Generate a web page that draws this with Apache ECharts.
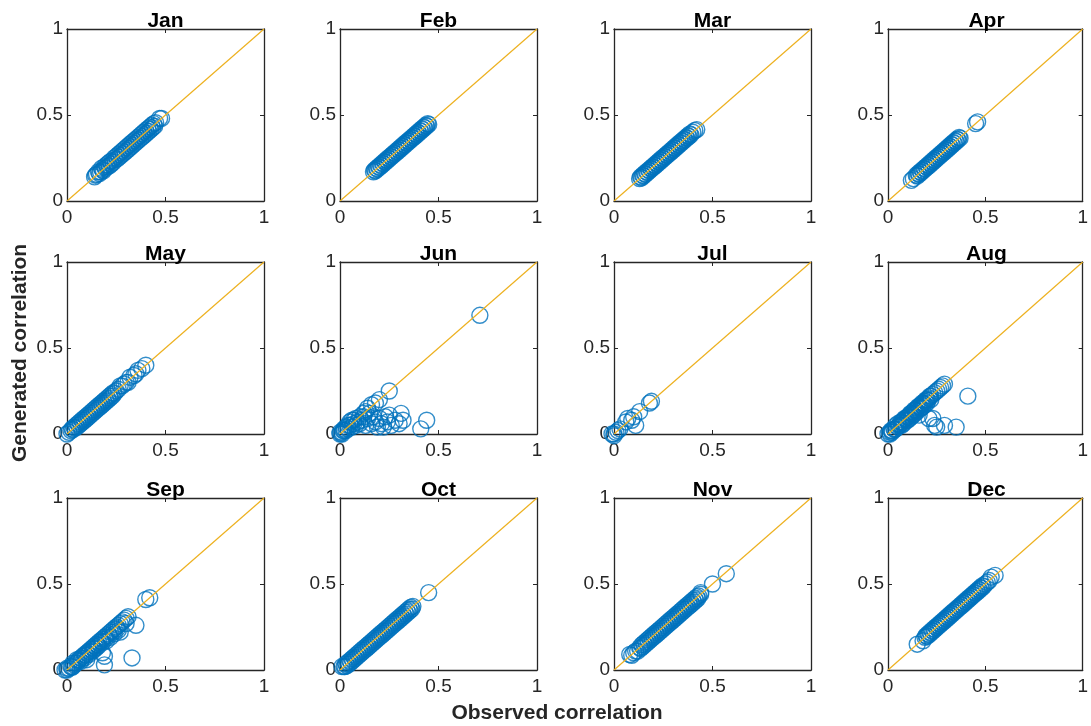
<!DOCTYPE html>
<html>
<head>
<meta charset="utf-8">
<style>
  html, body { margin: 0; padding: 0; width: 100%; height: 100%; overflow: hidden; background: #fff; }
</style>
<script src="https://cdn.jsdelivr.net/npm/echarts@6/dist/echarts.min.js"></script>
</head>
<body>
<div id="container" style="width:1091px;height:726px;"></div>
<script>
// month names / tick labels
const months = ['Jan', 'Feb', 'Mar', 'Apr', 'May', 'Jun', 'Jul', 'Aug', 'Sep', 'Oct', 'Nov', 'Dec'];
const ticks = [0, 0.5, 1];

// [observed, generated] pairs
const jan = [[0.14,0.14],[0.145,0.15],[0.15,0.155],[0.16,0.17],[0.165,0.16],[0.17,0.17],[0.175,0.19],[0.18,0.18],[0.185,0.175],[0.19,0.2],[0.195,0.19],[0.2,0.21],[0.205,0.2],[0.21,0.22],[0.215,0.205],[0.22,0.23],[0.225,0.215],[0.23,0.235],[0.235,0.225],[0.24,0.25],[0.245,0.24],[0.25,0.26],[0.255,0.245],[0.26,0.27],[0.265,0.255],[0.27,0.28],[0.275,0.265],[0.28,0.29],[0.285,0.275],[0.29,0.3],[0.295,0.285],[0.3,0.31],[0.305,0.295],[0.31,0.32],[0.315,0.305],[0.32,0.33],[0.325,0.315],[0.33,0.34],[0.335,0.325],[0.34,0.35],[0.345,0.335],[0.35,0.36],[0.355,0.345],[0.36,0.37],[0.365,0.355],[0.37,0.38],[0.375,0.365],[0.38,0.39],[0.385,0.375],[0.39,0.4],[0.395,0.385],[0.4,0.41],[0.405,0.395],[0.41,0.42],[0.415,0.405],[0.42,0.43],[0.425,0.415],[0.43,0.44],[0.435,0.425],[0.44,0.45],[0.445,0.435],[0.45,0.455],[0.47,0.48],[0.48,0.48]];
const feb = [[0.17,0.17],[0.175,0.18],[0.18,0.175],[0.185,0.19],[0.19,0.185],[0.195,0.2],[0.2,0.195],[0.205,0.21],[0.21,0.205],[0.215,0.22],[0.22,0.215],[0.225,0.23],[0.23,0.225],[0.235,0.24],[0.24,0.235],[0.245,0.25],[0.25,0.245],[0.255,0.26],[0.26,0.255],[0.265,0.27],[0.27,0.265],[0.275,0.28],[0.28,0.275],[0.285,0.29],[0.29,0.285],[0.295,0.3],[0.3,0.295],[0.305,0.31],[0.31,0.305],[0.315,0.32],[0.32,0.315],[0.325,0.33],[0.33,0.325],[0.335,0.34],[0.34,0.335],[0.345,0.35],[0.35,0.345],[0.355,0.36],[0.36,0.355],[0.365,0.37],[0.37,0.365],[0.375,0.38],[0.38,0.375],[0.385,0.39],[0.39,0.385],[0.395,0.4],[0.4,0.395],[0.405,0.41],[0.41,0.405],[0.415,0.42],[0.42,0.415],[0.425,0.43],[0.43,0.425],[0.435,0.44],[0.44,0.435],[0.445,0.45],[0.45,0.445]];
const mar = [[0.13,0.13],[0.135,0.14],[0.14,0.135],[0.145,0.15],[0.15,0.145],[0.155,0.16],[0.16,0.155],[0.165,0.17],[0.17,0.165],[0.175,0.18],[0.18,0.175],[0.185,0.19],[0.19,0.185],[0.195,0.2],[0.2,0.195],[0.205,0.21],[0.21,0.205],[0.215,0.22],[0.22,0.215],[0.225,0.23],[0.23,0.225],[0.235,0.24],[0.24,0.235],[0.245,0.25],[0.25,0.245],[0.255,0.26],[0.26,0.255],[0.265,0.27],[0.27,0.265],[0.275,0.28],[0.28,0.275],[0.285,0.29],[0.29,0.285],[0.295,0.3],[0.3,0.295],[0.305,0.31],[0.31,0.305],[0.315,0.32],[0.32,0.315],[0.325,0.33],[0.33,0.325],[0.335,0.34],[0.34,0.335],[0.345,0.35],[0.35,0.345],[0.355,0.36],[0.36,0.355],[0.365,0.37],[0.37,0.365],[0.375,0.38],[0.38,0.375],[0.385,0.39],[0.39,0.385],[0.4,0.4],[0.41,0.41],[0.42,0.415]];
const apr = [[0.12,0.12],[0.13,0.13],[0.145,0.15],[0.15,0.145],[0.155,0.16],[0.16,0.155],[0.165,0.17],[0.17,0.165],[0.175,0.18],[0.18,0.175],[0.185,0.19],[0.19,0.185],[0.195,0.2],[0.2,0.195],[0.205,0.21],[0.21,0.205],[0.215,0.22],[0.22,0.215],[0.225,0.23],[0.23,0.225],[0.235,0.24],[0.24,0.235],[0.245,0.25],[0.25,0.245],[0.255,0.26],[0.26,0.255],[0.265,0.27],[0.27,0.265],[0.275,0.28],[0.28,0.275],[0.285,0.29],[0.29,0.285],[0.295,0.3],[0.3,0.295],[0.305,0.31],[0.31,0.305],[0.315,0.32],[0.32,0.315],[0.325,0.33],[0.33,0.325],[0.335,0.34],[0.34,0.335],[0.345,0.35],[0.35,0.345],[0.355,0.36],[0.36,0.355],[0.365,0.37],[0.37,0.365],[0.45,0.45],[0.46,0.46]];
const may = [[0,0],[0.01,0.01],[0.02,0.02],[0.025,0.03],[0.03,0.025],[0.035,0.04],[0.04,0.035],[0.045,0.05],[0.05,0.04],[0.055,0.06],[0.06,0.05],[0.065,0.07],[0.07,0.06],[0.075,0.08],[0.08,0.07],[0.085,0.09],[0.09,0.08],[0.095,0.1],[0.1,0.09],[0.105,0.11],[0.11,0.1],[0.115,0.12],[0.12,0.11],[0.125,0.13],[0.13,0.12],[0.135,0.14],[0.14,0.13],[0.145,0.15],[0.15,0.14],[0.155,0.16],[0.16,0.15],[0.165,0.17],[0.17,0.16],[0.175,0.18],[0.18,0.17],[0.185,0.19],[0.19,0.18],[0.195,0.2],[0.2,0.19],[0.205,0.21],[0.21,0.2],[0.215,0.22],[0.22,0.21],[0.225,0.23],[0.23,0.22],[0.235,0.24],[0.24,0.235],[0.25,0.25],[0.26,0.26],[0.27,0.28],[0.28,0.28],[0.29,0.29],[0.3,0.3],[0.31,0.3],[0.32,0.33],[0.34,0.34],[0.35,0.35],[0.36,0.37],[0.38,0.38],[0.4,0.4]];
const jun = [[0,0],[0,0.01],[0.01,0],[0.01,0.01],[0.015,0.02],[0.02,0.02],[0.02,0.03],[0.03,0.02],[0.03,0.04],[0.04,0.03],[0.04,0.05],[0.05,0.05],[0.05,0.07],[0.06,0.04],[0.06,0.08],[0.07,0.06],[0.07,0.08],[0.08,0.05],[0.08,0.09],[0.09,0.07],[0.1,0.06],[0.1,0.1],[0.11,0.08],[0.12,0.1],[0.12,0.12],[0.13,0.05],[0.13,0.13],[0.14,0.09],[0.14,0.15],[0.15,0.12],[0.16,0.17],[0.16,0.06],[0.17,0.1],[0.18,0.18],[0.18,0.07],[0.19,0.04],[0.2,0.2],[0.2,0.09],[0.21,0.06],[0.22,0.04],[0.23,0.1],[0.24,0.07],[0.25,0.25],[0.25,0.11],[0.26,0.05],[0.28,0.08],[0.3,0.06],[0.31,0.12],[0.32,0.08],[0.41,0.03],[0.44,0.08],[0.71,0.69]];
const jul = [[-0.01,0],[0,0],[0,-0.01],[0.01,0.01],[0.02,0.02],[0.03,0.03],[0.06,0.07],[0.07,0.09],[0.09,0.08],[0.1,0.1],[0.11,0.05],[0.13,0.13],[0.18,0.18],[0.19,0.19]];
const aug = [[0,0],[0.01,0],[0.01,0.01],[0.015,0.02],[0.02,0.02],[0.02,0.01],[0.03,0.03],[0.035,0.025],[0.04,0.03],[0.04,0.05],[0.05,0.04],[0.05,0.06],[0.055,0.05],[0.06,0.05],[0.065,0.07],[0.07,0.07],[0.07,0.05],[0.075,0.065],[0.08,0.08],[0.08,0.06],[0.085,0.09],[0.09,0.09],[0.095,0.08],[0.1,0.08],[0.1,0.1],[0.105,0.1],[0.11,0.11],[0.11,0.09],[0.115,0.12],[0.12,0.12],[0.12,0.1],[0.125,0.115],[0.13,0.13],[0.13,0.11],[0.135,0.14],[0.14,0.14],[0.14,0.12],[0.145,0.135],[0.15,0.15],[0.15,0.13],[0.155,0.16],[0.16,0.16],[0.16,0.11],[0.165,0.15],[0.17,0.17],[0.17,0.15],[0.175,0.18],[0.18,0.18],[0.18,0.16],[0.185,0.175],[0.19,0.19],[0.19,0.17],[0.195,0.2],[0.2,0.2],[0.2,0.18],[0.205,0.195],[0.21,0.21],[0.21,0.09],[0.215,0.22],[0.22,0.22],[0.22,0.2],[0.23,0.23],[0.23,0.09],[0.24,0.24],[0.24,0.05],[0.25,0.25],[0.25,0.04],[0.26,0.26],[0.27,0.27],[0.28,0.28],[0.29,0.05],[0.29,0.29],[0.35,0.04],[0.41,0.22]];
const sep = [[-0.01,0],[0,0],[0,0.01],[0.01,0.01],[0.02,0.02],[0.025,0.015],[0.03,0.02],[0.03,0.04],[0.035,0.03],[0.04,0.04],[0.05,0.04],[0.05,0.06],[0.055,0.05],[0.06,0.06],[0.07,0.05],[0.07,0.07],[0.075,0.065],[0.08,0.08],[0.09,0.07],[0.09,0.09],[0.095,0.085],[0.1,0.1],[0.1,0.06],[0.11,0.11],[0.11,0.09],[0.115,0.105],[0.12,0.12],[0.13,0.11],[0.13,0.13],[0.135,0.125],[0.14,0.14],[0.14,0.12],[0.15,0.15],[0.15,0.13],[0.155,0.145],[0.16,0.16],[0.16,0.14],[0.17,0.17],[0.175,0.165],[0.18,0.16],[0.18,0.18],[0.19,0.03],[0.19,0.08],[0.18,0.1],[0.19,0.19],[0.195,0.18],[0.2,0.2],[0.2,0.17],[0.21,0.21],[0.215,0.2],[0.22,0.22],[0.22,0.19],[0.23,0.23],[0.235,0.22],[0.24,0.24],[0.24,0.21],[0.25,0.25],[0.255,0.24],[0.26,0.26],[0.26,0.23],[0.27,0.27],[0.27,0.22],[0.28,0.28],[0.29,0.29],[0.3,0.3],[0.31,0.31],[0.3,0.27],[0.35,0.26],[0.33,0.07],[0.4,0.41],[0.42,0.42]];
const oct = [[0.01,0.02],[0.02,0.02],[0.025,0.02],[0.03,0.035],[0.035,0.025],[0.04,0.045],[0.045,0.035],[0.05,0.055],[0.055,0.045],[0.06,0.065],[0.065,0.055],[0.07,0.075],[0.075,0.065],[0.08,0.085],[0.085,0.075],[0.09,0.095],[0.095,0.085],[0.1,0.105],[0.105,0.095],[0.11,0.115],[0.115,0.105],[0.12,0.125],[0.125,0.115],[0.13,0.135],[0.135,0.125],[0.14,0.145],[0.145,0.135],[0.15,0.155],[0.155,0.145],[0.16,0.165],[0.165,0.155],[0.17,0.175],[0.175,0.165],[0.18,0.185],[0.185,0.175],[0.19,0.195],[0.195,0.185],[0.2,0.205],[0.205,0.195],[0.21,0.215],[0.215,0.205],[0.22,0.225],[0.225,0.215],[0.23,0.235],[0.235,0.225],[0.24,0.245],[0.245,0.235],[0.25,0.255],[0.255,0.245],[0.26,0.265],[0.265,0.255],[0.27,0.275],[0.275,0.265],[0.28,0.285],[0.285,0.275],[0.29,0.295],[0.295,0.285],[0.3,0.305],[0.305,0.295],[0.31,0.315],[0.315,0.305],[0.32,0.325],[0.325,0.315],[0.33,0.335],[0.335,0.325],[0.34,0.345],[0.345,0.335],[0.35,0.355],[0.355,0.345],[0.36,0.365],[0.365,0.355],[0.37,0.37],[0.45,0.45]];
const nov = [[0.08,0.09],[0.09,0.085],[0.1,0.1],[0.11,0.11],[0.12,0.11],[0.13,0.13],[0.135,0.125],[0.14,0.145],[0.145,0.135],[0.15,0.155],[0.155,0.145],[0.16,0.165],[0.165,0.155],[0.17,0.175],[0.175,0.165],[0.18,0.185],[0.185,0.175],[0.19,0.195],[0.195,0.185],[0.2,0.205],[0.205,0.195],[0.21,0.215],[0.215,0.205],[0.22,0.225],[0.225,0.215],[0.23,0.235],[0.235,0.225],[0.24,0.245],[0.245,0.235],[0.25,0.255],[0.255,0.245],[0.26,0.265],[0.265,0.255],[0.27,0.275],[0.275,0.265],[0.28,0.285],[0.285,0.275],[0.29,0.295],[0.295,0.285],[0.3,0.305],[0.305,0.295],[0.31,0.315],[0.315,0.305],[0.32,0.325],[0.325,0.315],[0.33,0.335],[0.335,0.325],[0.34,0.345],[0.345,0.335],[0.35,0.355],[0.355,0.345],[0.36,0.365],[0.365,0.355],[0.37,0.375],[0.375,0.365],[0.38,0.385],[0.385,0.375],[0.39,0.395],[0.395,0.385],[0.4,0.405],[0.405,0.395],[0.41,0.415],[0.415,0.405],[0.42,0.425],[0.425,0.415],[0.43,0.43],[0.44,0.44],[0.44,0.45],[0.5,0.5],[0.57,0.56]];
const dec = [[0.15,0.15],[0.18,0.17],[0.19,0.19],[0.195,0.2],[0.2,0.195],[0.205,0.21],[0.21,0.205],[0.215,0.22],[0.22,0.215],[0.225,0.23],[0.23,0.225],[0.235,0.24],[0.24,0.235],[0.245,0.25],[0.25,0.245],[0.255,0.26],[0.26,0.255],[0.265,0.27],[0.27,0.265],[0.275,0.28],[0.28,0.275],[0.285,0.29],[0.29,0.285],[0.295,0.3],[0.3,0.295],[0.305,0.31],[0.31,0.305],[0.315,0.32],[0.32,0.315],[0.325,0.33],[0.33,0.325],[0.335,0.34],[0.34,0.335],[0.345,0.35],[0.35,0.345],[0.355,0.36],[0.36,0.355],[0.365,0.37],[0.37,0.365],[0.375,0.38],[0.38,0.375],[0.385,0.39],[0.39,0.385],[0.395,0.4],[0.4,0.395],[0.405,0.41],[0.41,0.405],[0.415,0.42],[0.42,0.415],[0.425,0.43],[0.43,0.425],[0.435,0.44],[0.44,0.435],[0.445,0.45],[0.45,0.445],[0.455,0.46],[0.46,0.455],[0.465,0.47],[0.47,0.465],[0.475,0.48],[0.48,0.475],[0.485,0.49],[0.49,0.485],[0.5,0.5],[0.51,0.51],[0.52,0.52],[0.53,0.54],[0.55,0.55]];
const panels = [jan, feb, mar, apr, may, jun, jul, aug, sep, oct, nov, dec];
const diagonal = [[0, 0], [1, 1]];

var dom = document.getElementById('container');
var myChart = echarts.init(dom, null, { renderer: 'canvas' });

const font = 'Liberation Sans, Arial, Helvetica, sans-serif';
const axisColor = '#262626';
const colLeft = [67, 340, 614, 888];
const rowTop = [29, 262, 498];
const W = 197, H = 172;

let grid = [], xAxis = [], yAxis = [], series = [], title = [];

panels.forEach((pts, i) => {
  let col = i % 4, row = Math.floor(i / 4);
  grid.push({ left: colLeft[col], top: rowTop[row], width: W, height: H });
  title.push({
    text: months[i], left: colLeft[col] + W / 2, top: rowTop[row] - 18, textAlign: 'center', padding: 0,
    textStyle: { fontFamily: font, fontSize: 21, fontWeight: 'bold', color: '#000' }
  });
  let base = {
    type: 'value', min: ticks[0], max: ticks[2], interval: 0.5, gridIndex: i,
    splitLine: { show: false },
    axisLine: { show: true, onZero: false, lineStyle: { color: axisColor, width: 1.3 } },
    axisTick: { show: true, inside: true, length: 4, lineStyle: { color: axisColor } }
  };
  let lbl = { show: true, fontFamily: font, fontSize: 19, color: axisColor, formatter: v => String(v) };
  xAxis.push(Object.assign({}, base, { position: 'bottom', axisLabel: Object.assign({ margin: 7 }, lbl) }));
  xAxis.push(Object.assign({}, base, { position: 'top', axisLabel: { show: false } }));
  yAxis.push(Object.assign({}, base, { position: 'left', axisLabel: Object.assign({ margin: 4 }, lbl) }));
  yAxis.push(Object.assign({}, base, { position: 'right', axisLabel: { show: false } }));

  series.push({
    type: 'scatter', xAxisIndex: 2 * i, yAxisIndex: 2 * i, data: pts, clip: false,
    symbol: 'circle', symbolSize: 16, z: 2,
    itemStyle: { color: 'rgba(0,0,0,0)', borderColor: '#0072BD', borderWidth: 1.4 }
  });
  series.push({
    type: 'line', xAxisIndex: 2 * i, yAxisIndex: 2 * i, data: diagonal, symbol: 'none', z: 3,
    lineStyle: { color: '#EDB120', width: 1.2 }
  });
});

var option = {
  animation: false,
  backgroundColor: '#fff',
  title: title,
  grid: grid,
  xAxis: xAxis,
  yAxis: yAxis,
  series: series,
  graphic: [
    {
      type: 'text', x: 20, y: 353, rotation: Math.PI / 2,
      style: { text: 'Generated correlation', font: 'bold 21px ' + font, fill: axisColor, textAlign: 'center', textVerticalAlign: 'middle' }
    },
    {
      type: 'text', x: 557, y: 713,
      style: { text: 'Observed correlation', font: 'bold 21px ' + font, fill: axisColor, textAlign: 'center', textVerticalAlign: 'middle' }
    }
  ]
};

myChart.setOption(option);
window.addEventListener('resize', myChart.resize);
</script>
</body>
</html>
